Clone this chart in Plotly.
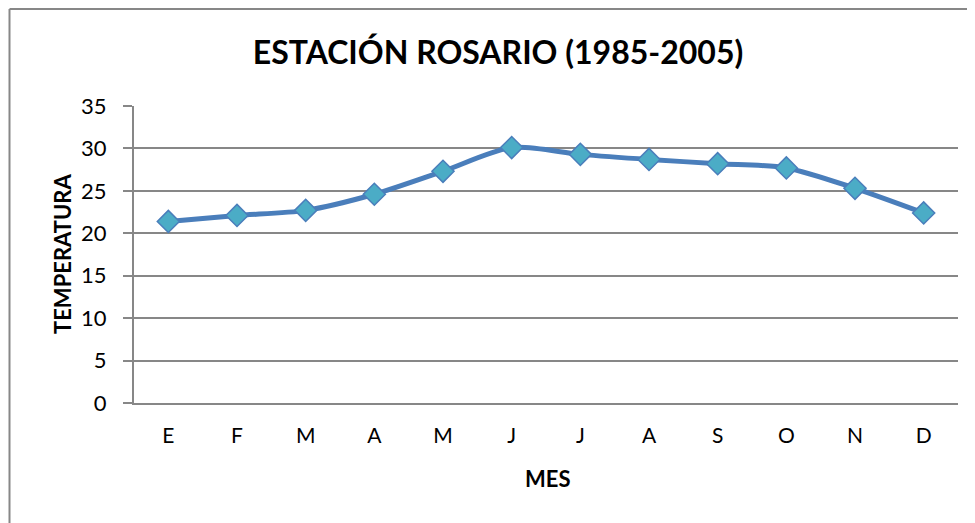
import plotly.graph_objects as go

months = ["E", "F", "M", "A", "M", "J", "J", "A", "S", "O", "N", "D"]
temperatura = [21.4, 22.1, 22.7, 24.6, 27.3, 30.1, 29.3, 28.7, 28.2, 27.7, 25.3, 22.4]
y_ticks = [0, 5, 10, 15, 20, 25, 30, 35]
title_text = "ESTACIÓN ROSARIO (1985-2005)"
x_title = "MES"
y_title = "TEMPERATURA"

# the page body adds an 8px margin, so the figure is shifted by OFF
OFF = 8
W, H = 975 - OFF, 523 - OFF
# plot area in reference-pixel coordinates
PX0, PX1, PY0, PY1 = 134, 958, 106, 403
L, R, T, B = PX0 - OFF, W - (PX1 - OFF), PY0 - OFF, H - (PY1 - OFF)
pw, ph = PX1 - PX0, PY1 - PY0

def px_x(p):
    return (p - PX0) / pw

def px_y(p):
    return (PY1 - p) / ph

FONT = "Lato"
GRID = "#878787"

x_idx = list(range(len(months)))

fig = go.Figure()
fig.add_trace(go.Scatter(
    x=x_idx, y=temperatura, mode="lines+markers",
    line=dict(color="#4A7EBB", width=5, shape="spline", smoothing=0.8),
    marker=dict(symbol="diamond", size=17, color="#4BACC6",
                line=dict(color="#4A7EBB", width=1.5)),
    showlegend=False, hoverinfo="x+y",
))

fig.update_layout(
    width=W, height=H,
    margin=dict(l=L, r=R, t=T, b=B),
    paper_bgcolor="white", plot_bgcolor="white",
    font=dict(family=FONT, color="black"),
    xaxis=dict(
        range=[-0.5, len(months) - 0.5],
        tickmode="array", tickvals=x_idx, ticktext=months,
        showgrid=False, zeroline=False,
        showline=True, linecolor=GRID, linewidth=2,
        ticks="", tickfont=dict(size=21, family=FONT),
        ticklabelstandoff=13,
    ),
    yaxis=dict(
        range=[0, 35], tickmode="array", tickvals=y_ticks,
        showgrid=True, gridcolor=GRID, gridwidth=2,
        zeroline=False, showline=True, linecolor=GRID, linewidth=2,
        ticks="outside", ticklen=9, tickcolor=GRID, tickwidth=2,
        tickfont=dict(size=22, family=FONT),
        ticklabelstandoff=12,
    ),
    title=dict(text="<b>%s</b>" % title_text, x=(498 - OFF) / W, xanchor="center",
               y=1 - (53 - OFF) / H, yanchor="middle",
               font=dict(size=32, family=FONT, color="black")),
    annotations=[
        dict(text="<b>%s</b>" % x_title, xref="paper", yref="paper",
             x=px_x(548), y=px_y(478), xanchor="center", yanchor="middle",
             showarrow=False, font=dict(size=22, family=FONT, color="black")),
        dict(text="<b>%s</b>" % y_title, xref="paper", yref="paper",
             x=px_x(62), y=px_y(254), xanchor="center", yanchor="middle",
             textangle=-90, showarrow=False,
             font=dict(size=22, family=FONT, color="black")),
    ],
    shapes=[
        dict(type="line", xref="paper", yref="paper",
             x0=px_x(9.5), x1=px_x(9.5), y0=px_y(9), y1=px_y(540),
             line=dict(color=GRID, width=2)),
        dict(type="line", xref="paper", yref="paper",
             x0=px_x(9.5), x1=px_x(1000), y0=px_y(9), y1=px_y(9),
             line=dict(color=GRID, width=2)),
    ],
)

fig.write_html("out.html")
